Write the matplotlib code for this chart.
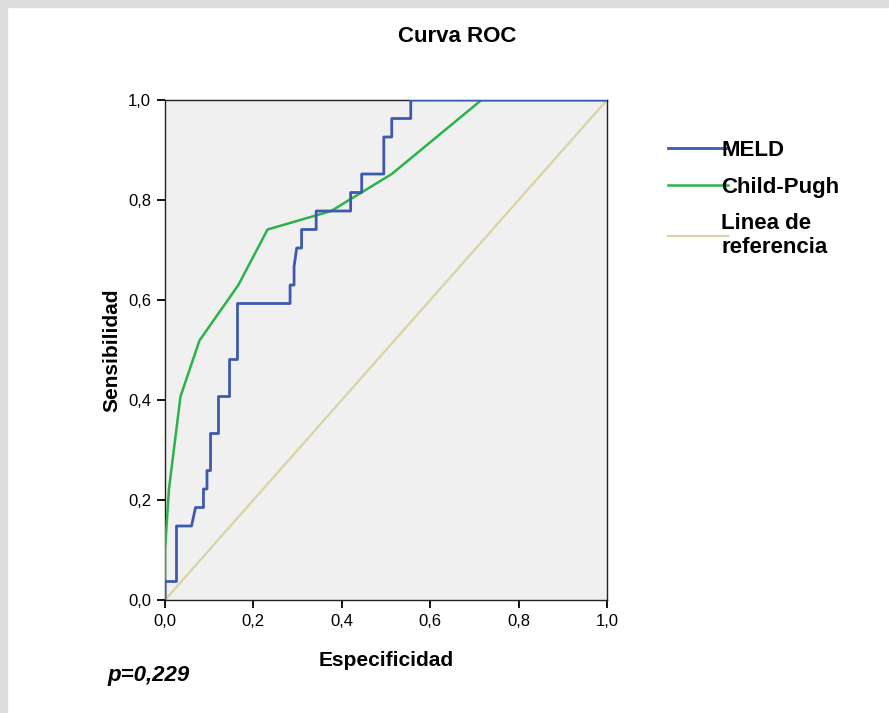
import numpy as np
from matplotlib import pyplot as plt
from matplotlib.patches import Rectangle

plt.rcParams['font.family'] = ['Liberation Sans', 'DejaVu Sans']

# ROC points (x = 1 - especificidad, y = sensibilidad)
meld_x = [0, 0, 0.026, 0.026, 0.060, 0.069, 0.087, 0.087, 0.095, 0.095, 0.103, 0.103,
          0.121, 0.121, 0.146, 0.146, 0.164, 0.164, 0.283, 0.283, 0.292, 0.292, 0.298,
          0.309, 0.309, 0.342, 0.342, 0.420, 0.420, 0.445, 0.445, 0.495, 0.495, 0.513,
          0.513, 0.556, 0.556, 1.0]
meld_y = [0, 0.037, 0.037, 0.148, 0.148, 0.185, 0.185, 0.222, 0.222, 0.259, 0.259, 0.333,
          0.333, 0.407, 0.407, 0.481, 0.481, 0.593, 0.593, 0.630, 0.630, 0.667, 0.704,
          0.704, 0.741, 0.741, 0.778, 0.778, 0.815, 0.815, 0.852, 0.852, 0.926, 0.926,
          0.963, 0.963, 1.0, 1.0]

cp_x = [0, 0, 0.009, 0.035, 0.078, 0.166, 0.232, 0.376, 0.513, 0.716, 1.0]
cp_y = [0, 0.100, 0.222, 0.407, 0.519, 0.630, 0.741, 0.778, 0.852, 1.0, 1.0]

ref_x = [0, 1]
ref_y = [0, 1]

ticks = [0, 0.2, 0.4, 0.6, 0.8, 1.0]
tick_labels = ['0,0', '0,2', '0,4', '0,6', '0,8', '1,0']

fig = plt.figure(figsize=(8.89, 7.13), dpi=100)
W, H = 889, 713

# grey frame of the original screenshot
fig.patches.append(Rectangle((0, 1 - 7 / H), 1, 7 / H, transform=fig.transFigure,
                             color='#dcdcdc', zorder=0))
fig.patches.append(Rectangle((0, 0), 7 / W, 1, transform=fig.transFigure,
                             color='#dcdcdc', zorder=0))

ax = fig.add_axes([165 / W, 1 - 600 / H, 442 / W, 500 / H])
ax.set_facecolor('#f0f0f0')

ax.plot(ref_x, ref_y, color='#d8d3a0', lw=1.6, label='Linea de\nreferencia', zorder=2)
ax.plot(cp_x, cp_y, color='#2ab34a', lw=1.8, label='Child-Pugh', zorder=3)
ax.plot(meld_x, meld_y, color='#3d5aae', lw=2.0, label='MELD', zorder=4)

ax.set_xlim(0, 1)
ax.set_ylim(0, 1)
ax.set_xticks(ticks)
ax.set_xticklabels(tick_labels)
ax.set_yticks(ticks)
ax.set_yticklabels(tick_labels)
ax.tick_params(direction='out', length=6, width=1.3, labelsize=12, pad=4)
for s in ax.spines.values():
    s.set_linewidth(1.0)
    s.set_color('#222222')

ax.set_xlabel('Especificidad', fontsize=15, fontweight='bold', labelpad=16)
ax.set_ylabel('Sensibilidad', fontsize=15, fontweight='bold', labelpad=5)

fig.text(457 / W, 1 - 37 / H, 'Curva ROC', fontsize=16, fontweight='bold',
         ha='center', va='center')
fig.text(107 / W, 1 - 676 / H, 'p=0,229', fontsize=16, fontweight='bold',
         style='italic', ha='left', va='center')

h, l = ax.get_legend_handles_labels()
order = [2, 1, 0]
leg = fig.legend([h[i] for i in order], [l[i] for i in order],
                 loc='upper left', bbox_to_anchor=(648 / W, 1 - 120 / H),
                 frameon=False, handlelength=2.7, handletextpad=-0.3,
                 labelspacing=0.7, prop={'size': 16, 'weight': 'bold'})

fig.savefig('out.png', dpi=100)
